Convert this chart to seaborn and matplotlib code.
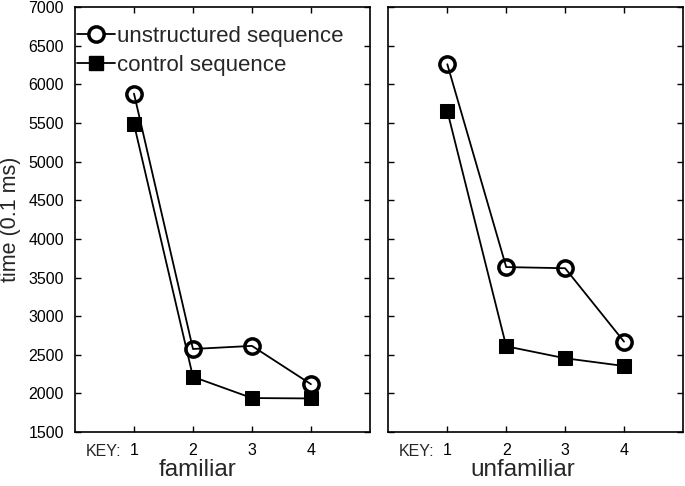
import numpy as np
import pandas as pd
import seaborn as sns
import matplotlib.pyplot as plt
from matplotlib.lines import Line2D

# data
keys = [1, 2, 3, 4]
key_labels = ["1", "2", "3", "4"]
familiar_unstructured = [5880, 2575, 2615, 2120]
familiar_control = [5485, 2215, 1940, 1935]
unfamiliar_unstructured = [6260, 3635, 3620, 2670]
unfamiliar_control = [5655, 2610, 2455, 2355]

sns.set_style("ticks")
plt.rcParams["font.family"] = ["Liberation Sans", "DejaVu Sans"]

fig = plt.figure(figsize=(6.85, 4.86), dpi=100)
ax1 = fig.add_axes([0.1095, 0.111, 0.4305, 0.8745])
ax2 = fig.add_axes([0.567, 0.111, 0.430, 0.8745])

panels = [
    (ax1, familiar_unstructured, familiar_control, "familiar", 0.414),
    (ax2, unfamiliar_unstructured, unfamiliar_control, "unfamiliar", 0.456),
]

for ax, unstr, ctrl, name, lx in panels:
    sns.lineplot(x=keys, y=unstr, ax=ax, color="black", lw=1.3,
                 marker="o", markersize=11, markerfacecolor="none",
                 markeredgecolor="black", markeredgewidth=2.5)
    sns.lineplot(x=keys, y=ctrl, ax=ax, color="black", lw=1.3,
                 marker="s", markersize=10.5, markerfacecolor="black",
                 markeredgecolor="black")
    ax.set_xlim(0, 5)
    ax.set_ylim(1500, 7000)
    ax.set_xticks(keys)
    ax.set_xticklabels(key_labels, fontsize=11.5)
    ax.set_yticks(np.arange(1500, 7001, 500))
    ax.tick_params(direction="in", top=True, right=True, length=4,
                   width=1, colors="black", labelsize=11.5, pad=8)
    for sp in ax.spines.values():
        sp.set_linewidth(1.2)
        sp.set_color("black")
    ax.set_xlabel(name, fontsize=17.5)
    ax.xaxis.set_label_coords(lx, -0.064)
    ax.xaxis.label.set_va("top")
    ax.annotate("KEY:", xy=(1, 0), xycoords=("data", "axes fraction"),
                xytext=(-9, -8.5), textcoords="offset points",
                ha="right", va="top", fontsize=11.5)

ax1.set_ylabel("time (0.1 ms)", fontsize=15.5, labelpad=5)
ax2.set_ylabel("")
ax2.tick_params(labelleft=False)

handles = [
    Line2D([], [], color="black", lw=1.3, marker="o", markersize=11,
           markerfacecolor="white", markeredgewidth=2.5),
    Line2D([], [], color="black", lw=1.3, marker="s", markersize=10.5,
           markerfacecolor="black"),
]
ax1.legend(handles, ["unstructured sequence", "control sequence"],
           loc="upper left", frameon=False, fontsize=16,
           handlelength=1.7, handletextpad=0.1, labelspacing=0.35,
           borderpad=0.1, borderaxespad=0.0, bbox_to_anchor=(0.0, 0.96))

fig.savefig("out.png", dpi=100)
